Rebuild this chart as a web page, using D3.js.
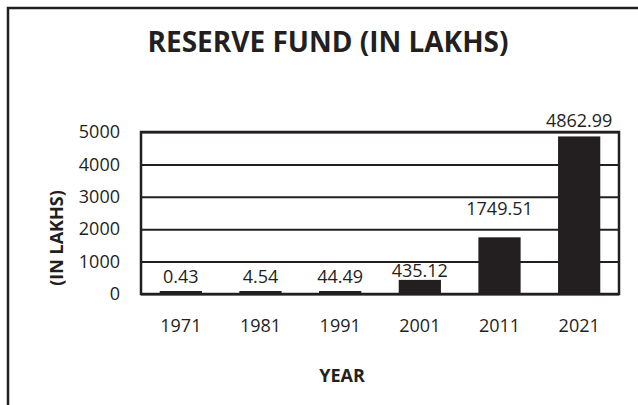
<!DOCTYPE html>
<html>
  <head>
    <meta charset="utf-8">
    <title>Reserve fund (in lakhs)</title>
    <script src="https://cdn.jsdelivr.net/npm/d3@7"></script>
    <style>
      body { margin: 0; background: #fff; }
      svg { display: block; font-family: "Open Sans", sans-serif; }
    </style>
  </head>

  <body>
    <svg id="chart" width="638" height="405"></svg>

    <script>
      // data
      const years = ["1971", "1981", "1991", "2001", "2011", "2021"];
      const reserveFund = [0.43, 4.54, 44.49, 435.12, 1749.51, 4862.99];
      const yTicks = [0, 1000, 2000, 3000, 4000, 5000];

      const ink = "#231f20";

      // elements
      const chart = d3.select("#chart");
      const plot = { left: 141, right: 619, top: 132, bottom: 294 };

      // outer frame (only top and left edges show in the crop)
      chart.append("path")
        .attr("d", "M8,405 V8 H638")
        .attr("fill", "none")
        .attr("stroke", ink)
        .attr("stroke-width", 2.5);

      // title
      chart.append("text")
        .attr("x", 328)
        .attr("y", 52)
        .attr("text-anchor", "middle")
        .attr("font-size", 28)
        .attr("font-weight", "bold")
        .attr("fill", ink)
        .text("RESERVE FUND (IN LAKHS)");

      // scales
      const x = d3.scaleBand()
        .domain(years)
        .range([plot.left, plot.right])
        .paddingInner(0.47)
        .paddingOuter(0.235);

      const y = d3.scaleLinear()
        .domain([0, 5000])
        .range([plot.bottom, plot.top]);

      // gridlines
      chart.append("g")
        .attr("transform", "translate(" + plot.left + ",0)")
        .call(d3.axisLeft(y).tickValues(yTicks).tickSize(-(plot.right - plot.left)).tickFormat(""))
        .call(function(g) { g.select(".domain").remove(); })
        .selectAll("line")
          .attr("stroke", ink)
          .attr("stroke-width", 2);

      // plot frame
      chart.append("rect")
        .attr("x", plot.left)
        .attr("y", plot.top)
        .attr("width", plot.right - plot.left)
        .attr("height", plot.bottom - plot.top)
        .attr("fill", "none")
        .attr("stroke", ink)
        .attr("stroke-width", 2.5);

      // y tick labels
      chart.append("g")
        .attr("transform", "translate(" + (plot.left - 21) + ",0)")
        .call(d3.axisLeft(y).tickValues(yTicks).tickSize(0).tickPadding(0).tickFormat(d3.format("d")))
        .call(function(g) { g.select(".domain").remove(); })
        .selectAll("text")
          .attr("font-family", "Open Sans, sans-serif")
          .attr("font-size", 18)
          .attr("fill", ink);

      // x tick labels
      chart.append("g")
        .attr("transform", "translate(0," + plot.bottom + ")")
        .call(d3.axisBottom(x).tickSize(0).tickPadding(25))
        .call(function(g) { g.select(".domain").remove(); })
        .selectAll("text")
          .attr("font-family", "Open Sans, sans-serif")
          .attr("font-size", 18)
          .attr("fill", ink);

      // bars (tiny values still get a visible sliver, as in the source)
      const rows = years.map(function(yr, i) { return { year: yr, value: reserveFund[i] }; });
      const minBar = 3;

      function barTop(d) {
        return Math.min(y(d.value), y(0) - minBar);
      }

      chart.selectAll(".bar")
          .data(rows)
        .enter().append("rect")
          .classed("bar", true)
          .attr("x", function(d) { return x(d.year); })
          .attr("y", barTop)
          .attr("width", x.bandwidth())
          .attr("height", function(d) { return y(0) - barTop(d) + 1; })
          .attr("fill", ink);

      // value labels: short bars share the bottom band, 2011 label sits higher
      chart.selectAll(".value")
          .data(rows)
        .enter().append("text")
          .classed("value", true)
          .attr("x", function(d) { return x(d.year) + x.bandwidth() / 2; })
          .attr("y", function(d) {
            if (d.year === "2011") return y(d.value) - 22;
            if (d.value < 1000) return Math.min(y(d.value) - 3, y(0) - 11);
            return y(d.value) - 9;
          })
          .attr("text-anchor", "middle")
          .attr("font-size", 18)
          .attr("fill", ink)
          .text(function(d) { return d.value; });

      // axis titles
      chart.append("text")
        .attr("x", 342)
        .attr("y", 382)
        .attr("text-anchor", "middle")
        .attr("font-size", 18)
        .attr("font-weight", "bold")
        .attr("fill", ink)
        .text("YEAR");

      chart.append("text")
        .attr("transform", "translate(63,238) rotate(-90)")
        .attr("text-anchor", "middle")
        .attr("font-size", 18)
        .attr("font-weight", "bold")
        .attr("fill", ink)
        .text("(IN LAKHS)");
    </script>
  </body>
</html>
